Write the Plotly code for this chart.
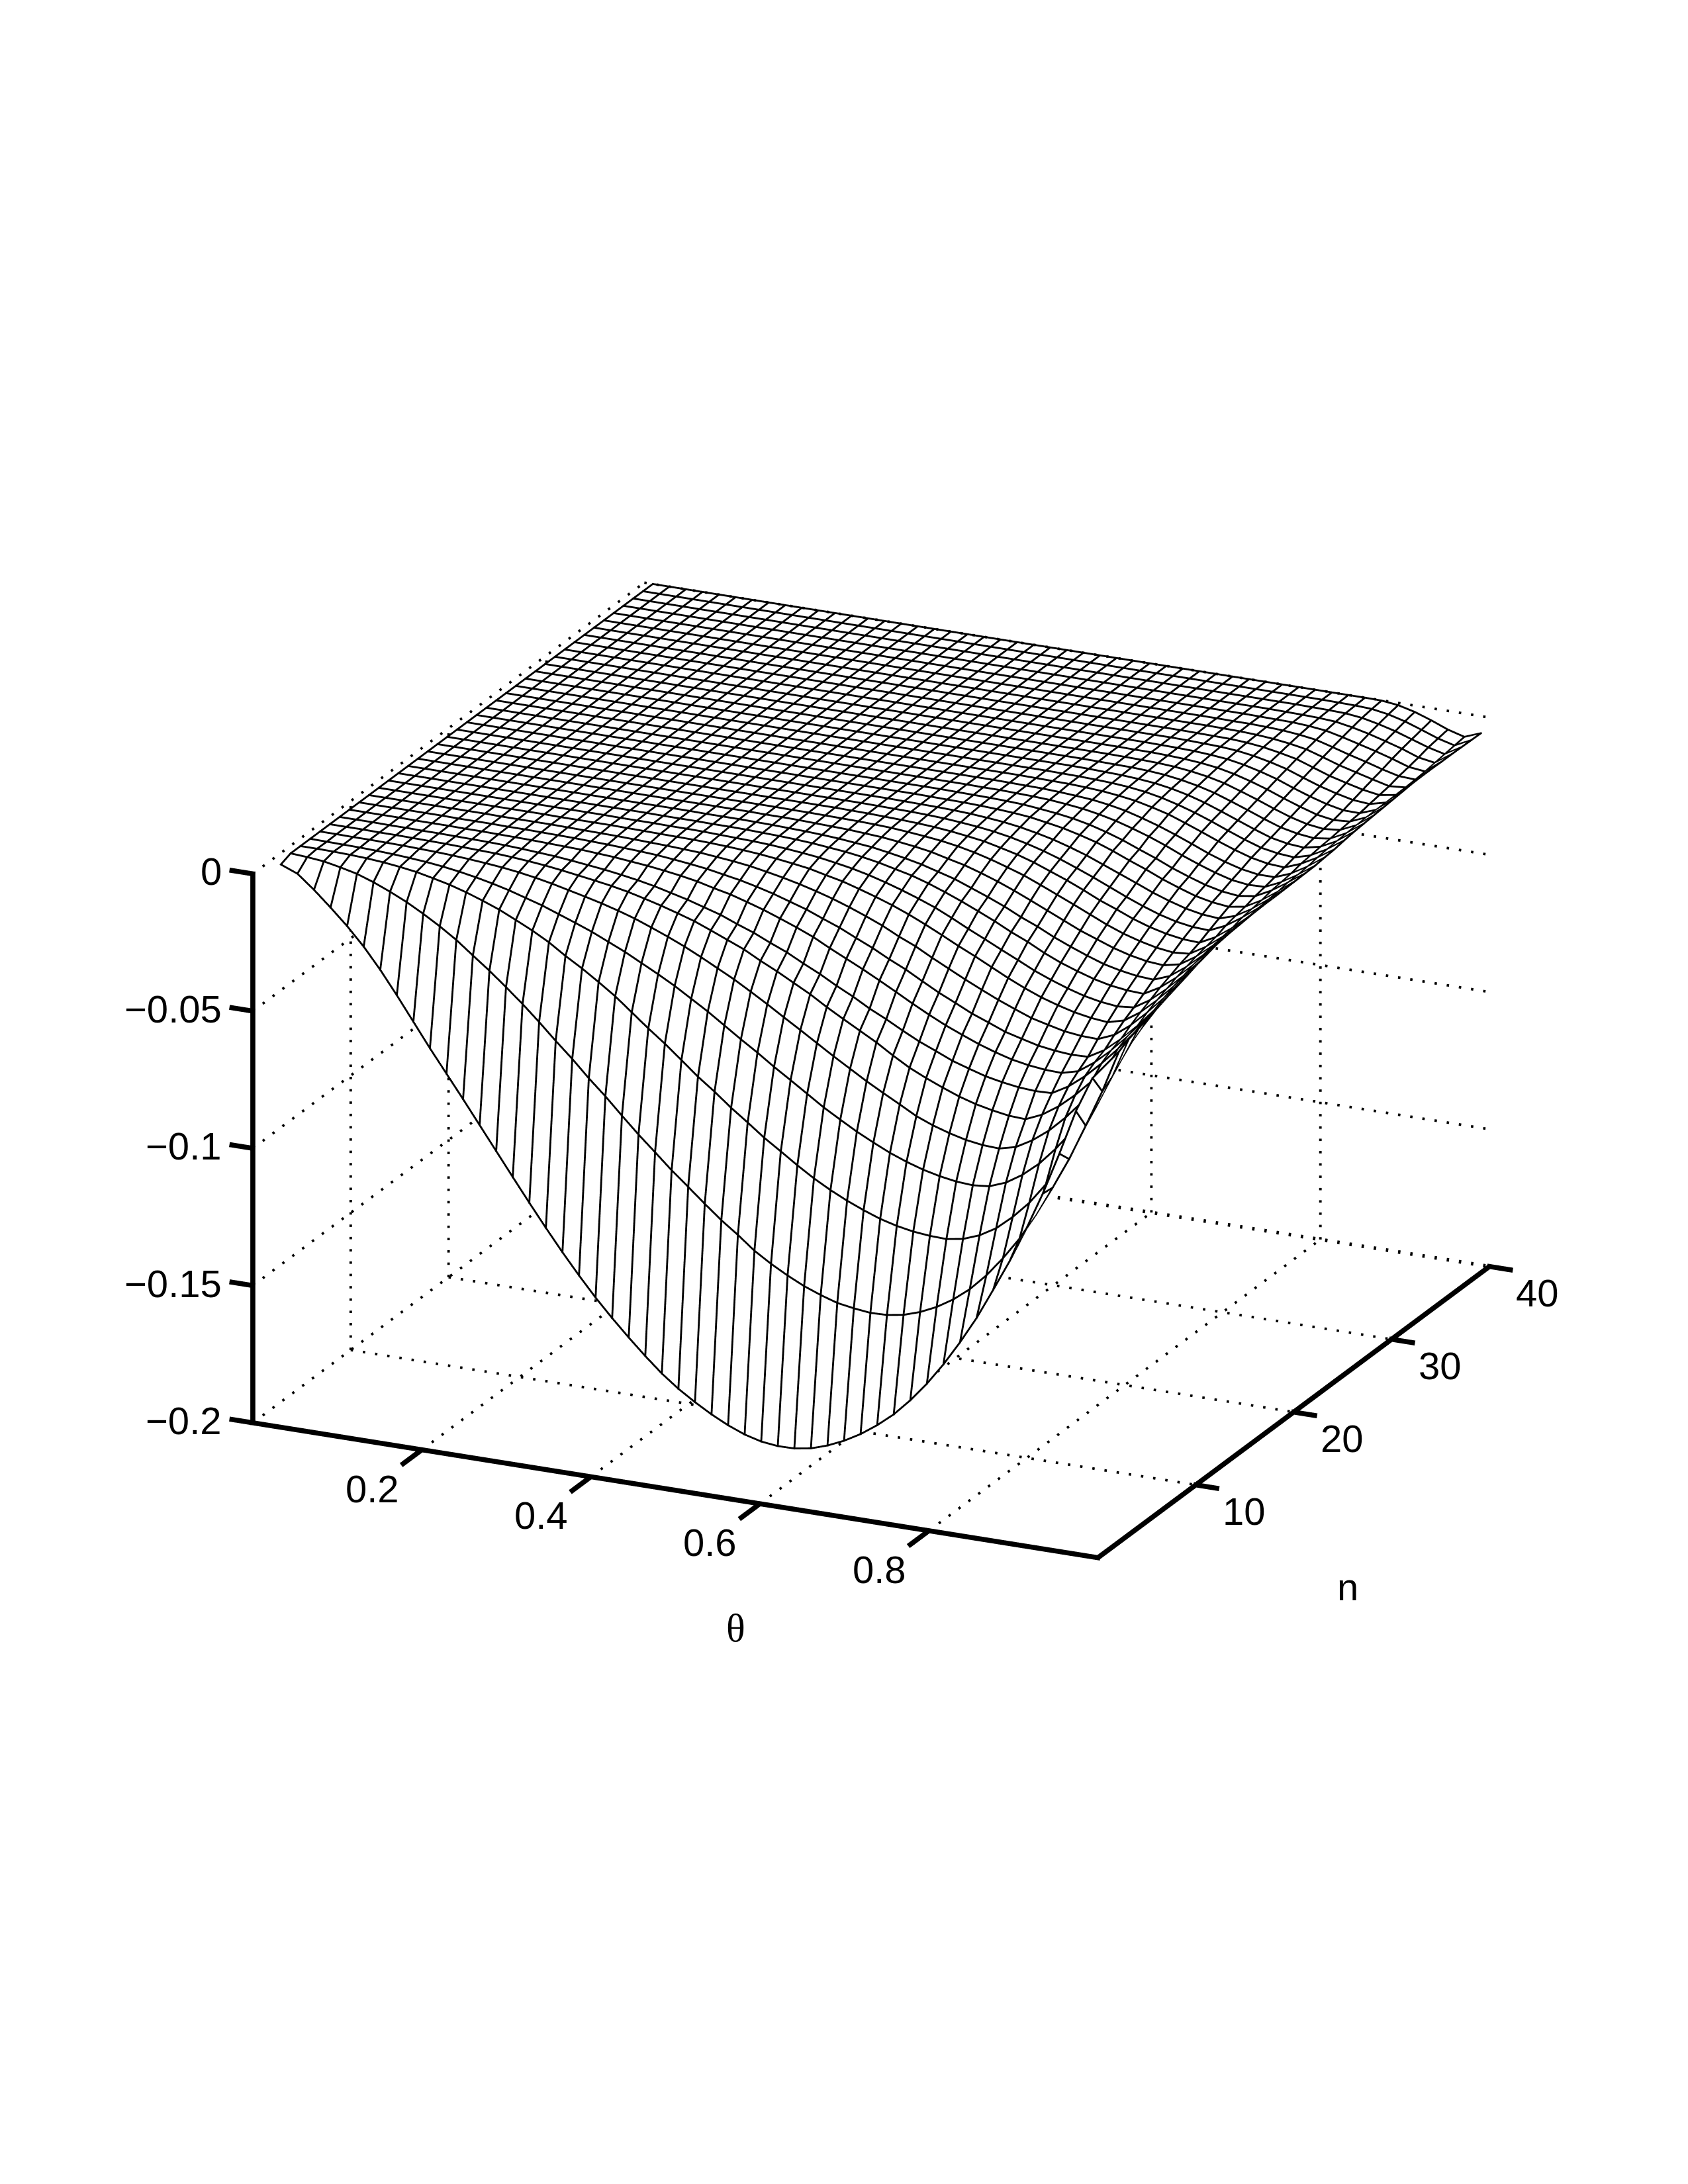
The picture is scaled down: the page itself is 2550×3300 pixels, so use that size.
import numpy as np
import plotly.graph_objects as go

THETA = [0.01, 0.0296, 0.0492, 0.0688, 0.0884, 0.108, 0.1276, 0.1472, 0.1668, 0.1864,
         0.206, 0.2256, 0.2452, 0.2648, 0.2844, 0.304, 0.3236, 0.3432, 0.3628, 0.3824,
         0.402, 0.4216, 0.4412, 0.4608, 0.4804, 0.5, 0.5196, 0.5392, 0.5588, 0.5784,
         0.598, 0.6176, 0.6372, 0.6568, 0.6764, 0.696, 0.7156, 0.7352, 0.7548, 0.7744,
         0.794, 0.8136, 0.8332, 0.8528, 0.8724, 0.892, 0.9116, 0.9312, 0.9508, 0.9704, 0.99]
N_VALUES = list(range(2, 41))

# depth below zero, in units of 0.0001, one row per n, one column per theta
DEPTH = [
 [14,38,87,142,200,265,340,423,510,597,680,763,848,933,1018,1102,1184,1263,1338,1409,1474,1535,1593,1647,1693,1732,1767,1797,1821,1837,1844,1843,1833,1813,1786,1752,1710,1661,1600,1530,1450,1360,1262,1150,1035,908,770,615,450,320,250],
 [0,4,10,22,36,57,82,110,143,179,219,266,312,362,414,470,529,585,646,702,763,822,877,933,984,1036,1086,1130,1178,1216,1249,1278,1301,1320,1330,1337,1335,1325,1305,1277,1240,1193,1133,1061,980,882,775,661,530,395,241],
 [0,0,1,3,6,11,18,27,40,54,72,93,116,144,173,206,246,282,322,364,413,462,508,558,609,654,703,747,793,833,874,912,945,974,999,1021,1037,1048,1054,1056,1046,1023,988,937,876,799,709,609,491,367,222],
 [0,1,2,3,5,8,12,17,24,33,44,57,72,90,108,130,152,175,202,229,260,291,324,361,398,439,480,519,561,600,640,680,715,749,779,807,830,849,863,873,877,871,848,810,760,696,622,535,437,329,210],
 [0,0,1,1,2,3,5,7,10,14,19,25,33,43,55,69,83,98,115,134,157,181,207,236,267,298,333,369,407,444,482,520,556,592,625,657,690,714,733,748,757,760,745,711,666,609,543,468,385,295,198],
 [0,0,0,1,1,2,3,4,6,8,10,14,19,25,33,42,51,61,73,88,104,122,141,165,190,215,247,276,308,340,377,411,444,477,515,550,578,603,626,644,657,667,670,644,604,553,493,425,351,271,184],
 [0,0,0,1,1,2,2,3,4,5,7,10,14,18,24,31,38,47,57,69,84,99,117,135,159,181,208,233,264,293,326,356,390,419,451,481,506,532,551,569,581,590,594,592,558,511,455,392,323,249,172],
 [0,0,0,0,1,1,1,2,2,3,4,5,7,9,11,15,19,25,31,39,48,59,74,87,105,124,146,169,194,225,254,283,314,346,379,410,439,464,488,508,525,536,543,545,529,487,434,373,306,234,158],
 [0,0,0,0,0,0,1,1,1,2,2,3,4,5,7,9,12,15,19,25,32,40,51,62,76,92,111,130,154,177,205,232,263,291,324,356,384,413,436,460,476,491,500,505,503,469,419,361,295,223,148],
 [0,0,0,0,0,0,0,0,1,1,1,1,2,3,4,5,7,9,11,14,17,23,29,37,48,60,74,90,108,129,152,177,207,233,265,295,325,353,380,404,427,442,456,463,465,440,395,339,277,208,135],
 [0,0,0,0,0,0,0,0,0,0,0,1,1,1,1,2,3,4,5,6,8,11,15,20,27,35,44,58,71,89,108,129,153,180,209,239,267,297,327,354,378,397,413,424,430,414,374,321,261,196,125],
 [0,0,0,0,0,0,0,0,0,0,0,0,0,0,1,1,1,2,2,3,5,7,9,12,17,23,30,40,51,65,82,101,122,145,173,203,231,260,288,317,341,362,380,392,399,393,356,306,249,186,115],
 [0,0,0,0,0,0,0,0,0,0,0,0,0,0,0,0,1,1,1,2,2,3,5,7,10,14,20,26,35,46,60,74,93,115,139,165,192,222,248,279,305,326,345,359,367,370,337,291,236,174,107],
 [0,0,0,0,0,0,0,0,0,0,0,0,0,0,0,0,0,0,1,1,1,2,3,5,7,10,14,20,26,36,47,60,77,94,117,140,165,194,219,248,273,296,317,331,341,345,322,279,227,168,103],
 [0,0,0,0,0,0,0,0,0,0,0,0,0,0,0,0,0,0,0,0,0,1,1,2,4,6,8,12,16,23,31,41,56,70,89,110,134,160,187,214,241,263,285,302,314,319,306,268,219,163,101],
 [0,0,0,0,0,0,0,0,0,0,0,0,0,0,0,0,0,0,0,0,0,0,1,1,2,3,4,6,9,14,20,27,37,50,66,85,105,130,156,182,209,236,259,277,291,299,294,259,213,160,100],
 [0,0,0,0,0,0,0,0,0,0,0,0,0,0,0,0,0,0,0,0,0,0,0,0,0,1,2,4,6,9,13,19,27,36,50,65,84,107,130,156,184,207,232,252,267,277,280,250,207,156,99],
 [0,0,0,0,0,0,0,0,0,0,0,0,0,0,0,0,0,0,0,0,0,0,0,0,0,0,1,2,3,5,8,13,19,27,38,52,69,89,112,136,162,188,212,233,249,259,262,235,196,151,99],
 [0,0,0,0,0,0,0,0,0,0,0,0,0,0,0,0,0,0,0,0,0,0,0,0,0,0,0,1,2,3,5,8,13,19,28,40,54,72,92,116,140,164,189,210,228,240,245,226,191,147,98],
 [0,0,0,0,0,0,0,0,0,0,0,0,0,0,0,0,0,0,0,0,0,0,0,0,0,0,0,0,1,2,3,5,8,12,18,28,39,54,71,93,118,141,167,189,209,222,229,219,186,144,97],
 [0,0,0,0,0,0,0,0,0,0,0,0,0,0,0,0,0,0,0,0,0,0,0,0,0,0,0,0,0,1,2,3,5,8,14,21,30,43,60,80,104,127,153,175,195,209,216,207,177,138,96],
 [0,0,0,0,0,0,0,0,0,0,0,0,0,0,0,0,0,0,0,0,0,0,0,0,0,0,0,0,0,0,1,1,3,5,8,14,21,32,46,64,84,107,133,156,177,194,202,200,173,137,95],
 [0,0,0,0,0,0,0,0,0,0,0,0,0,0,0,0,0,0,0,0,0,0,0,0,0,0,0,0,0,0,0,1,2,3,6,10,15,24,36,53,72,94,118,143,164,181,191,191,168,133,91],
 [0,0,0,0,0,0,0,0,0,0,0,0,0,0,0,0,0,0,0,0,0,0,0,0,0,0,0,0,0,0,0,0,1,2,3,6,10,17,26,40,56,78,101,125,147,166,178,182,159,127,88],
 [0,0,0,0,0,0,0,0,0,0,0,0,0,0,0,0,0,0,0,0,0,0,0,0,0,0,0,0,0,0,0,0,0,1,2,4,7,12,20,32,48,67,89,113,136,156,167,172,155,123,82],
 [0,0,0,0,0,0,0,0,0,0,0,0,0,0,0,0,0,0,0,0,0,0,0,0,0,0,0,0,0,0,0,0,0,0,1,3,5,9,15,25,39,57,79,102,125,146,158,163,150,120,77],
 [0,0,0,0,0,0,0,0,0,0,0,0,0,0,0,0,0,0,0,0,0,0,0,0,0,0,0,0,0,0,0,0,0,0,1,2,3,6,11,20,32,48,69,91,114,135,148,155,147,117,74],
 [0,0,0,0,0,0,0,0,0,0,0,0,0,0,0,0,0,0,0,0,0,0,0,0,0,0,0,0,0,0,0,0,0,0,0,1,2,4,8,15,25,39,59,80,103,124,140,148,142,115,71],
 [0,0,0,0,0,0,0,0,0,0,0,0,0,0,0,0,0,0,0,0,0,0,0,0,0,0,0,0,0,0,0,0,0,0,0,1,1,3,6,11,19,32,49,69,92,113,132,142,138,113,68],
 [0,0,0,0,0,0,0,0,0,0,0,0,0,0,0,0,0,0,0,0,0,0,0,0,0,0,0,0,0,0,0,0,0,0,0,0,1,2,4,8,14,25,40,58,81,102,120,133,134,112,65],
 [0,0,0,0,0,0,0,0,0,0,0,0,0,0,0,0,0,0,0,0,0,0,0,0,0,0,0,0,0,0,0,0,0,0,0,0,0,1,3,5,10,19,32,48,70,91,108,122,127,112,62],
 [0,0,0,0,0,0,0,0,0,0,0,0,0,0,0,0,0,0,0,0,0,0,0,0,0,0,0,0,0,0,0,0,0,0,0,0,0,1,2,3,7,14,25,38,59,80,96,111,121,111,59],
 [0,0,0,0,0,0,0,0,0,0,0,0,0,0,0,0,0,0,0,0,0,0,0,0,0,0,0,0,0,0,0,0,0,0,0,0,0,0,1,2,5,10,18,29,48,68,84,100,115,110,58],
 [0,0,0,0,0,0,0,0,0,0,0,0,0,0,0,0,0,0,0,0,0,0,0,0,0,0,0,0,0,0,0,0,0,0,0,0,0,0,1,1,3,6,12,21,38,56,72,90,105,108,58],
 [0,0,0,0,0,0,0,0,0,0,0,0,0,0,0,0,0,0,0,0,0,0,0,0,0,0,0,0,0,0,0,0,0,0,0,0,0,0,0,1,2,3,7,14,28,44,60,78,98,105,59],
 [0,0,0,0,0,0,0,0,0,0,0,0,0,0,0,0,0,0,0,0,0,0,0,0,0,0,0,0,0,0,0,0,0,0,0,0,0,0,0,0,1,2,4,8,19,33,50,68,90,100,59],
 [0,0,0,0,0,0,0,0,0,0,0,0,0,0,0,0,0,0,0,0,0,0,0,0,0,0,0,0,0,0,0,0,0,0,0,0,0,0,0,0,0,1,2,4,11,24,40,60,80,95,60],
 [0,0,0,0,0,0,0,0,0,0,0,0,0,0,0,0,0,0,0,0,0,0,0,0,0,0,0,0,0,0,0,0,0,0,0,0,0,0,0,0,0,0,1,2,5,15,31,52,74,90,61],
 [0,0,0,0,0,0,0,0,0,0,0,0,0,0,0,0,0,0,0,0,0,0,0,0,0,0,0,0,0,0,0,0,0,0,0,0,0,0,0,0,0,0,0,0,1,8,23,44,68,85,62],
]

X_TICKS = [0.2, 0.4, 0.6, 0.8]
Y_TICKS = [10, 20, 30, 40]
Z_TICKS = [0, -0.05, -0.1, -0.15, -0.2]
Z_TICK_TEXT = ["0", "\u22120.05", "\u22120.1", "\u22120.15", "\u22120.2"]
X_LIM = [0, 1]
Y_LIM = [0, 40]
Z_LIM = [-0.2, 0]
X_TITLE = "\u03b8"
Y_TITLE = "n"

Z = -np.array(DEPTH, dtype=float) / 10000.0
theta = np.array(THETA)
ns = np.array(N_VALUES, dtype=float)
x0, x1 = X_LIM
y0, y1 = Y_LIM
z0, z1 = Z_LIM

# view
EYE_DIR = np.array([0.3945, -0.8516, 0.3446])
EYE_R = 1.84
Z_BOX = 0.628                # height of the plot box relative to its sides
PX_PER_BOX = 1400.0          # page pixels per box side
SCALE = np.array([1.0 / (x1 - x0), 1.0 / (y1 - y0), Z_BOX / (z1 - z0)])


def ribbons(segments, width_px, cap=False):
    """Camera-facing quads: WebGL line widths are capped at 1px, so thick lines are meshes."""
    seg = np.array(segments, dtype=float)            # (m, 2, 3) in data units
    p = seg[:, 0] * SCALE
    q = seg[:, 1] * SCALE
    d = q - p
    d /= np.linalg.norm(d, axis=1, keepdims=True)
    side = np.cross(d, EYE_DIR)
    side /= np.linalg.norm(side, axis=1, keepdims=True)
    half = width_px / 2.0 / PX_PER_BOX
    if cap:
        p = p - d * half
        q = q + d * half
    verts = np.empty((len(seg) * 4, 3))
    verts[0::4] = p - side * half
    verts[1::4] = p + side * half
    verts[2::4] = q + side * half
    verts[3::4] = q - side * half
    verts /= SCALE
    base = np.arange(len(seg)) * 4
    return verts, np.r_[base, base], np.r_[base + 1, base + 2], np.r_[base + 2, base + 3]


def mesh_trace(segments, width_px, cap=False):
    v, i, j, k = ribbons(segments, width_px, cap)
    return go.Mesh3d(x=v[:, 0], y=v[:, 1], z=v[:, 2], i=i, j=j, k=k, color="black",
                     flatshading=True, hoverinfo="skip", showscale=False,
                     lighting=dict(ambient=1, diffuse=0, specular=0, fresnel=0))


def dotted(a, b, period_px=18.5, dot_px=3.6):
    a = np.array(a, dtype=float)
    b = np.array(b, dtype=float)
    # on-screen length governs the dot rhythm
    scr = (b - a) * SCALE
    side = np.array([0.9071, 0.4208, 0.0])
    up = np.cross(side, EYE_DIR) * -1
    length = np.hypot(scr @ side, scr @ up) * PX_PER_BOX
    out = []
    for s in np.arange(0, length, period_px):
        e = min(s + dot_px, length)
        if e > s:
            out.append([a + (b - a) * s / length, a + (b - a) * e / length])
    return out


# white surface hides what is behind it; pushed a hair away from the viewer so the mesh lines win
eps = 0.004
fig = go.Figure()
fig.add_trace(go.Surface(
    x=theta - eps * EYE_DIR[0] / SCALE[0],
    y=ns - eps * EYE_DIR[1] / SCALE[1],
    z=Z - eps * EYE_DIR[2] / SCALE[2],
    colorscale=[[0, "white"], [1, "white"]], showscale=False, hoverinfo="skip",
    lighting=dict(ambient=1, diffuse=0, specular=0, fresnel=0),
))

# mesh lines
mesh_segments = []
for i, n in enumerate(ns):
    for j in range(theta.size - 1):
        mesh_segments.append([[theta[j], n, Z[i, j]], [theta[j + 1], n, Z[i, j + 1]]])
for j, t in enumerate(theta):
    for i in range(ns.size - 1):
        mesh_segments.append([[t, ns[i], Z[i, j]], [t, ns[i + 1], Z[i + 1, j]]])
fig.add_trace(mesh_trace(mesh_segments, 2.8, cap=True))

# dotted grid on the floor and two back walls
grid = []
for t in X_TICKS:
    grid += dotted([t, y0, z0], [t, y1, z0])
    grid += dotted([t, y1, z0], [t, y1, z1])
for n in Y_TICKS[:-1]:
    grid += dotted([x0, n, z0], [x1, n, z0])
    grid += dotted([x0, n, z0], [x0, n, z1])
for v in Z_TICKS:
    grid += dotted([x0, y0, v], [x0, y1, v])
    if v != z0:
        grid += dotted([x0, y1, v], [x1, y1, v])
fig.add_trace(mesh_trace(grid, 3.8))
# the back floor edge is drawn twice in the reference, so it reads heavier
fig.add_trace(mesh_trace(dotted([x0, y1, z0], [x1, y1, z0]), 5.4))

# box axes and ticks
axes = [[[x0, y0, z0], [x1, y0, z0]], [[x1, y0, z0], [x1, y1, z0]], [[x0, y0, z0], [x0, y0, z1]]]
for t in X_TICKS:
    axes.append([[t, y0, z0], [t, y0 - 0.05 * (y1 - y0), z0]])
for n in Y_TICKS:
    axes.append([[x1, n, z0], [x1 + 0.025 * (x1 - x0), n, z0]])
for v in Z_TICKS:
    axes.append([[x0, y0, v], [x0 - 0.025 * (x1 - x0), y0, v]])
fig.add_trace(mesh_trace(axes, 7.5, cap=True))

# text
FONT = dict(family="Liberation Sans", size=58, color="black")
SERIF = dict(family="Liberation Serif", size=60, color="black")
notes = []
def note(x, y, z, text, font, dx, dy, anchor="center"):
    notes.append(dict(x=x, y=y, z=z, text=text, showarrow=False, font=font,
                      xanchor=anchor, yanchor="middle", xshift=dx, yshift=-dy))
for t in X_TICKS:
    note(t, y0, z0, f"{t:.1f}", FONT, -75, 59)
for n in Y_TICKS:
    note(x1, n, z0, str(n), FONT, 73, 40)
for v, s in zip(Z_TICKS, Z_TICK_TEXT):
    note(x0, y0, v, s, FONT, -45, -3, "right")
note((x0 + x1) / 2, y0, z0, X_TITLE, SERIF, 91, 209)
note(x1, (y0 + y1) / 2, z0, Y_TITLE, FONT, 82, 264)

# ranges padded symmetrically so ticks are not clipped by the scene
pad = 0.06
xr = [x0 - pad * (x1 - x0), x1 + pad * (x1 - x0)]
yr = [y0 - pad * (y1 - y0), y1 + pad * (y1 - y0)]
zr = [z0 - pad * (z1 - z0), z1 + pad * (z1 - z0)]
ratio = 1 + 2 * pad

axis_common = dict(showgrid=False, zeroline=False, showline=False, showbackground=False,
                   showspikes=False, ticks="", showticklabels=False, title=dict(text=""))
fig.update_layout(
    width=2550, height=3300, margin=dict(l=0, r=0, t=0, b=0),
    paper_bgcolor="white", showlegend=False,
    scene=dict(
        domain=dict(x=[0.0929, 0.9329], y=[0.0862, 0.9389]),
        bgcolor="white",
        aspectmode="manual",
        aspectratio=dict(x=ratio, y=ratio, z=Z_BOX * ratio),
        camera=dict(projection=dict(type="orthographic"),
                    up=dict(x=0, y=0, z=1), center=dict(x=0, y=0, z=0),
                    eye=dict(x=EYE_R * EYE_DIR[0], y=EYE_R * EYE_DIR[1], z=EYE_R * EYE_DIR[2])),
        xaxis=dict(range=xr, tickvals=X_TICKS, **axis_common),
        yaxis=dict(range=yr, tickvals=Y_TICKS, **axis_common),
        zaxis=dict(range=zr, tickvals=Z_TICKS, **axis_common),
        annotations=notes,
    ),
)
fig.write_html("out.html")
